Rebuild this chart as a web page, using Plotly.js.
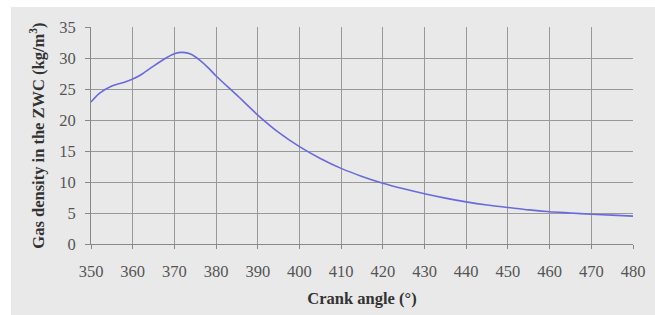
<!DOCTYPE html>
<html><head><meta charset="utf-8">
<script src="https://cdn.plot.ly/plotly-3.0.1.min.js"></script>
<style>html,body{margin:0;padding:0;background:#fff;overflow:hidden}#c{position:absolute;left:11px;top:7px;width:644px;height:308px}</style>
</head><body><div id="c"></div>
<script>
const crankAngle = [350,352,355,358,360,362,365,368,370,372,374,376,378,380,385,390,395,400,405,410,415,420,425,430,435,440,445,450,455,460,465,470,475,480];
const gasDensity = [22.9,24.3,25.5,26.1,26.6,27.3,28.7,30.0,30.7,30.9,30.6,29.7,28.5,27.1,24.0,20.8,18.0,15.7,13.8,12.2,10.9,9.8,8.9,8.1,7.4,6.8,6.3,5.9,5.5,5.2,5.0,4.8,4.65,4.5];
const xTicks = [350,360,370,380,390,400,410,420,430,440,450,460,470,480];
const yTicks = [0,5,10,15,20,25,30,35];

const tickFont = {family:'"Liberation Serif", "Times New Roman", serif', size:16.5, color:'#555'};
const titleFont = {family:'"Liberation Serif", "Times New Roman", serif', size:16.5, color:'#333', weight:'bold'};

Plotly.newPlot('c', [{
  x: crankAngle, y: gasDensity, type:'scatter', mode:'lines',
  line:{color:'#6a6ae0', width:1.6, shape:'spline', smoothing:0.8}
}], {
  width:644, height:308,
  paper_bgcolor:'#e9e9e9', plot_bgcolor:'#e9e9e9',
  margin:{l:80, r:22, t:20, b:71},
  showlegend:false,
  xaxis:{range:[350,480], tickvals:xTicks, ticktext:xTicks.map(String), showgrid:true, gridcolor:'#999', gridwidth:1,
    showline:true, linecolor:'#888', linewidth:1, ticks:'outside', ticklen:4, tickcolor:'#888', tickfont:tickFont, ticklabelstandoff:8,
    zeroline:false, title:{text:'<b>Crank angle (°)</b>', font:titleFont, standoff:12}, fixedrange:true},
  yaxis:{range:[0,35], tickvals:yTicks, ticktext:yTicks.map(String), showgrid:true, gridcolor:'#999', gridwidth:1,
    showline:true, linecolor:'#888', linewidth:1, ticks:'outside', ticklen:5, tickcolor:'#888', tickfont:tickFont, ticklabelstandoff:6,
    zeroline:false, title:{text:'<b>Gas density in the ZWC (kg/m<sup>3</sup>)</b>', font:titleFont, standoff:10}, fixedrange:true}
}, {displayModeBar:false, staticPlot:true});
</script></body></html>
